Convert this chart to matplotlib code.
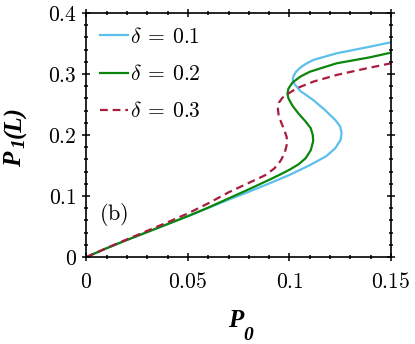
import matplotlib
matplotlib.use("Agg")
import matplotlib.pyplot as plt
from matplotlib.ticker import MultipleLocator, FixedLocator, FixedFormatter

plt.rcParams['mathtext.fontset'] = 'cm'

# curves (P0, P1(L)), multi-valued in P0
blue_x = [0, 0.01, 0.02, 0.03, 0.04, 0.05, 0.06, 0.07, 0.08, 0.09, 0.1, 0.11, 0.118,
          0.1225, 0.1252, 0.1257, 0.125, 0.1225, 0.12, 0.1175, 0.1117, 0.1052, 0.104,
          0.1024, 0.1016, 0.102, 0.1032, 0.1052, 0.108, 0.1117, 0.1232, 0.1397, 0.15]
blue_y = [0, 0.0145, 0.028, 0.041, 0.054, 0.067, 0.0805, 0.094, 0.107, 0.1205, 0.1345,
          0.1505, 0.165, 0.178, 0.192, 0.203, 0.214, 0.225, 0.2328, 0.241, 0.2574, 0.2725,
          0.2775, 0.284, 0.290, 0.2965, 0.3035, 0.310, 0.3165, 0.323, 0.3339, 0.3448, 0.352]

green_x = [0, 0.01, 0.02, 0.03, 0.04, 0.05, 0.06, 0.07, 0.08, 0.09, 0.095, 0.1, 0.1045,
           0.108, 0.1105, 0.1117, 0.1115, 0.1105, 0.108, 0.1045, 0.1015, 0.0995, 0.099,
           0.0995, 0.1015, 0.1055, 0.1101, 0.1232, 0.1397, 0.15]
green_y = [0, 0.0145, 0.028, 0.041, 0.054, 0.067, 0.081, 0.096, 0.111, 0.1265, 0.1345,
           0.143, 0.152, 0.162, 0.175, 0.19, 0.2, 0.211, 0.222, 0.235, 0.248, 0.26, 0.2683,
           0.276, 0.286, 0.296, 0.3038, 0.3175, 0.3274, 0.335]

red_x = [0, 0.01, 0.02, 0.03, 0.04, 0.05, 0.06, 0.07, 0.08, 0.088, 0.0925, 0.0955,
         0.0976, 0.0986, 0.0988, 0.0986, 0.0975, 0.096, 0.0947, 0.0943, 0.0948, 0.0965,
         0.0995, 0.1035, 0.1117, 0.1232, 0.138, 0.15]
red_y = [0, 0.0148, 0.029, 0.043, 0.057, 0.0715, 0.088, 0.106, 0.1215, 0.134, 0.145,
         0.157, 0.17, 0.183, 0.19, 0.197, 0.208, 0.22, 0.232, 0.243, 0.253, 0.261, 0.268,
         0.2765, 0.2874, 0.2984, 0.3093, 0.3175]

labels = [r'$\delta\:=\:0.1$', r'$\delta\:=\:0.2$', r'$\delta\:=\:0.3$']
x_ticks = [0, 0.05, 0.1, 0.15]
x_tick_labels = ['$0$', '$0.05$', '$0.1$', '$0.15$']
y_ticks = [0, 0.1, 0.2, 0.3, 0.4]
y_tick_labels = ['$0$', '$0.1$', '$0.2$', '$0.3$', '$0.4$']

fig = plt.figure(figsize=(4.15, 3.44), dpi=100)
ax = fig.add_axes([0.2084, 0.2529, 0.7336, 0.7093])

ax.plot(blue_x, blue_y, color='#5bc0eb', lw=1.6, label=labels[0])
ax.plot(green_x, green_y, color='#0a870a', lw=1.6, label=labels[1])
ax.plot(red_x, red_y, color='#a81c3c', lw=1.6, dashes=(3.5, 2.2), label=labels[2])

ax.set_xlim(0, 0.15)
ax.set_ylim(0, 0.4)
ax.xaxis.set_major_locator(FixedLocator(x_ticks))
ax.xaxis.set_major_formatter(FixedFormatter(x_tick_labels))
ax.yaxis.set_major_locator(FixedLocator(y_ticks))
ax.yaxis.set_major_formatter(FixedFormatter(y_tick_labels))
ax.xaxis.set_minor_locator(MultipleLocator(0.01))
ax.yaxis.set_minor_locator(MultipleLocator(0.02))
ax.tick_params(which='both', direction='inout', top=True, right=True, labelsize=15.5, width=1.1)
ax.tick_params(which='major', length=6)
ax.tick_params(which='minor', length=3.5)
ax.tick_params(axis='x', pad=8)
ax.tick_params(axis='y', pad=4)
for s in ax.spines.values():
    s.set_linewidth(1.2)

# axis labels: bold italic serif with a big, lowered subscript
lab = dict(family='Liberation Serif', weight='bold', style='italic')
fig.text(236 / 415, 1 - 327 / 344, 'P', fontsize=18, ha='center', va='baseline', **lab)
fig.text(243 / 415, 1 - 340 / 344, '0', fontsize=14, ha='left', va='baseline', **lab)
fig.text(21 / 415, 1 - 167 / 344, 'P', fontsize=18, rotation=90, rotation_mode='anchor',
         ha='left', va='baseline', **lab)
fig.text(25 / 415, 1 - 148 / 344, '1', fontsize=14, rotation=90, rotation_mode='anchor',
         ha='left', va='baseline', **lab)
fig.text(21 / 415, 1 - 138 / 344, '(L)', fontsize=18, rotation=90, rotation_mode='anchor',
         ha='left', va='baseline', **lab)

ax.text(0.006, 0.0605, r'$\mathrm{(b)}$', fontsize=16)

ax.legend(loc='upper left', frameon=False, fontsize=15.5, handlelength=1.3,
          handletextpad=0.05, labelspacing=0.8, borderaxespad=0.25)

fig.savefig('out.png', dpi=100)
